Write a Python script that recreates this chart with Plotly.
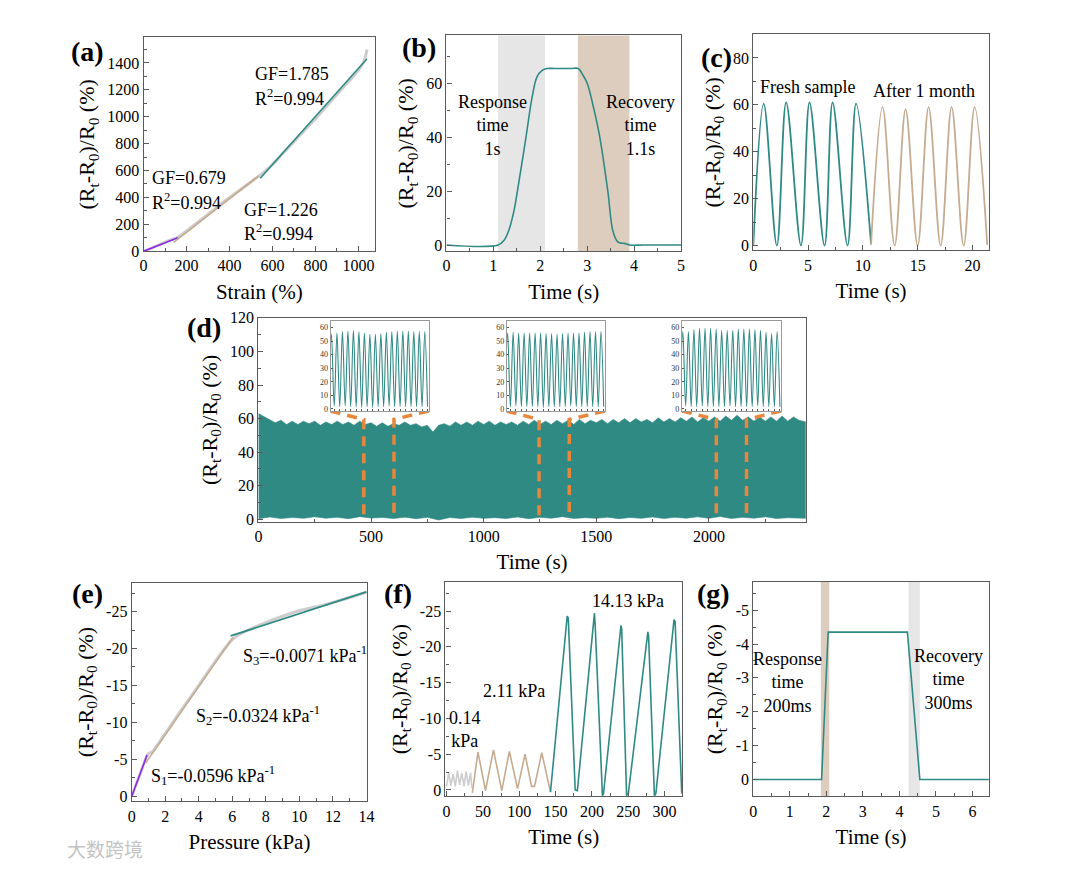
import plotly.graph_objects as go

W, H = 1080, 878
SERIF = "Liberation Serif"
TEAL = "#2f8a84"
TAN = "#c5ab90"
PURPLE = "#8a2be2"
LGREY = "#cdcdcd"
ORANGE = "#e8863c"
FRAME = "#5a5a5a"
SHADE_GREY = "#e6e6e6"
SHADE_TAN = "#dccdbf"

# ---------------- data ----------------
# (a) strain response
a_strain = [0, 40, 80, 120, 160, 200, 260, 320, 380, 440, 500, 550, 600, 650, 700, 750, 800, 850, 900, 950, 1000, 1025, 1040]
a_resp = [0, 25, 52, 80, 106, 150, 225, 300, 375, 445, 515, 575, 645, 730, 815, 900, 985, 1075, 1165, 1255, 1345, 1410, 1500]
a_fit1_x, a_fit1_y = [0, 160], [0, 100]
a_fit2_x, a_fit2_y = [140, 535], [66, 560]
a_fit3_x, a_fit3_y = [543, 1039], [543, 1429]

# (b) response / recovery
b_t = [0, 1.1, 1.23, 1.33, 1.44, 1.54, 1.69, 1.83, 1.93, 2.04, 2.14, 2.3, 2.5, 2.65, 2.81, 2.9, 3.0, 3.15, 3.27, 3.44, 3.55, 3.65, 3.72, 3.79, 3.91, 4.2, 5.0]
b_v = [0, 0, 1.8, 5.5, 12.8, 23, 39.5, 55.4, 62.6, 65, 65.7, 65.7, 65.7, 65.7, 65.7, 63.5, 60.2, 50, 40, 20, 5, 1.2, 0.7, 0.6, 0, 0, 0]
b_shades = [(1.1, 2.1, SHADE_GREY), (2.8, 3.9, SHADE_TAN)]

# (c) stability
c_fresh_t = [0, 0.95, 2.15, 3.0, 4.35, 5.13, 6.5, 7.24, 8.6, 9.38, 10.75]
c_fresh_v = [0, 60.4, 0, 61, 0, 61, 0, 61, 0, 60.5, 0.5]
c_after_t = [10.75, 11.8, 12.9, 13.9, 15.0, 16.0, 17.1, 18.1, 19.2, 20.2, 21.35]
c_after_v = [0.5, 59, 0, 58, 0, 59, 0, 59, 0, 59, 0.3]

# (d) long-term cycling envelope
d_top = [63, 61, 59.5, 57.5, 59, 56.5, 58.5, 56.5, 58.5, 57,
         58.5, 56, 58, 56.5, 58.5, 56.5, 58, 56, 58.5, 56.5,
         57.5, 55.5, 57.5, 55.5, 57, 56, 58, 56, 57, 55,
         56, 52, 56, 57, 55.5, 58, 56, 58, 56, 58.5,
         56.5, 58.5, 56, 58, 56.5, 58, 56, 58.5, 56.5, 59,
         56.5, 58.5, 56.5, 59, 57, 59, 56.5, 59.5, 57, 59,
         57.5, 59.5, 57, 59.5, 57.5, 60, 57.5, 60, 58, 59.5,
         57.5, 60.5, 58, 60, 58, 60.5, 58.5, 61, 58, 60.5,
         58.5, 61, 58.5, 61.5, 59, 62, 59, 61, 58.5, 61,
         58.5, 61, 58.5, 61.5, 58.5, 61, 59, 58.5, 58]
d_bottom = [0.3, 1.4, 0.5, 1.1, 0.6, 1.5, 0.7, 1.2, 0.4, 1.6, 0.8, 1.1, 0.5, 1.3, 0.4, 1.2, -0.4, 1.1, 0.5, 1.3,
            0.6, 1.0, 0.5, 1.4, 0.4, 1.2, 0.7, 1.6, 0.5, 1.0, 0.6, 1.3, 0.4, 1.1, 0.6, 1.4, 0.5, 1.2, 0.7, 1.5,
            0.6, 1.7, 0.5, 1.2, 0.7, 1.5, 0.5, 1.0, 0.8, 0.6]
d_zoom_windows = [(468, 602), (1246, 1380), (2033, 2167)]
inset_peaks = [
    [55, 56, 57, 57.5, 58, 57, 56, 55, 55, 55.5, 56.5, 57, 57.5, 57.5, 57.5, 57, 57, 57],
    [56, 56.5, 56, 56, 56, 56, 56, 55.5, 55.5, 55, 55.5, 56, 56, 56, 56.5, 57, 57, 57],
    [57, 57, 58.5, 59.5, 59.5, 59.5, 59, 58, 58, 58, 59, 59, 59, 58.5, 58, 56.5, 55.5, 57],
]
inset_troughs = [
    [1.5, 2, 1.5, 2, 1.5, 1.5, 1, 1.5, 1, 1.5, 1.5, 2, 1.5, 1.5, 1.5, 1.5, 1.5, 1.5, 1.5],
    [1.5, 1.5, 2, 1.5, 1.5, 1.5, 1.5, 1, 1.5, 1.5, 1.5, 1.5, 2, 1.5, 1.5, 1.5, 1.5, 1.5, 1.5],
    [1.5, 2, 1.5, 1.5, 2, 1.5, 1.5, 1.5, 1.5, 2, 1.5, 1.5, 1.5, 1.5, 2, 1.5, 1.5, 1.5, 1.5],
]

# (e) pressure response
e_p = [0, 0.5, 1.0, 1.2, 2, 3, 4, 5, 6, 6.5, 8, 10, 11.5, 14]
e_r = [0, -3, -5.8, -6, -8.5, -11.8, -15, -18.3, -21.2, -22, -23.5, -25.1, -25.9, -27.6]
e_fit1_x, e_fit1_y = [0, 0.92], [0, -5.6]
e_fit2_x, e_fit2_y = [0.83, 6.04], [-4.5, -21.5]
e_fit3_x, e_fit3_y = [5.9, 14.0], [-21.7, -27.65]

# (f) cycles at different pressures
f_low_t = [0, 3, 6, 9, 12, 15, 18, 21, 24, 27, 30, 33, 35]
f_low_v = [-0.5, -2.4, -0.6, -2.2, -0.5, -2.7, -0.7, -2.4, -0.5, -2.6, -0.6, -2.4, -0.3]
f_mid_t = [35.5, 43.2, 53.6, 64.5, 76, 86.4, 97.7, 108, 117, 121, 131, 143]
f_mid_v = [0.4, -5.3, 0.1, -5.6, 0.1, -5.4, -0.2, -5.0, -0.5, -0.5, -5.2, 0.3]
f_high_t = [143, 166, 167.5, 177, 180, 203.5, 204.5, 214.5, 216, 240, 241, 247.7, 250, 277, 278, 286, 288, 313, 314.5, 323.6]
f_high_v = [0.3, -24.3, -24.0, 0, 0.1, -24.7, -23.0, 0.8, 0.5, -23.0, -22.5, 0.7, 0.6, -22.1, -21.5, 0.8, 0.5, -23.8, -23.5, 0.5]

# (g) response / recovery under pressure
g_t = [0, 1.87, 2.05, 4.22, 4.56, 6.45]
g_v = [0, 0, -4.35, -4.35, 0, 0]
g_shades = [(1.85, 2.08, SHADE_TAN), (4.25, 4.56, SHADE_GREY)]

# ---------------- layout helpers ----------------
fig = go.Figure()
layout = dict(width=W, height=H, margin=dict(l=0, r=0, t=0, b=0),
              paper_bgcolor="white", plot_bgcolor="white", showlegend=False,
              font=dict(family=SERIF, color="black"))
shapes, annotations = [], []

YT = "(R<sub>t</sub>-R<sub>0</sub>)/R<sub>0</sub> (%)"


def ax_names(i):
    return ("xaxis" if i == 1 else f"xaxis{i}", "yaxis" if i == 1 else f"yaxis{i}",
            "x" if i == 1 else f"x{i}", "y" if i == 1 else f"y{i}")


def setup(i, box, xr, yr, xdt, ydt, xtitle, ytitle=YT, yvals=None, tick_font=16,
          xminor=None, yminor=None, show_xlabels=True, ticklen=5):
    x0, x1, y0, y1 = box
    xa, ya, xr_, yr_ = ax_names(i)
    common = dict(showline=True, linecolor=FRAME, linewidth=1.2, mirror=True, ticks="inside",
                  ticklen=ticklen, tickcolor=FRAME, showgrid=False, zeroline=False,
                  tickfont=dict(family=SERIF, size=tick_font, color="black"))
    xd = dict(common, domain=[x0 / W, x1 / W], range=xr, anchor=yr_, dtick=xdt, tick0=0,
              showticklabels=show_xlabels)
    if xtitle:
        xd["title"] = dict(text=xtitle, font=dict(family=SERIF, size=21), standoff=10)
    if xminor:
        xd["minor"] = dict(ticks="inside", ticklen=3, tickcolor=FRAME, dtick=xminor, tick0=0)
    yd = dict(common, domain=[1 - y1 / H, 1 - y0 / H], range=yr, anchor=xr_)
    if yvals is not None:
        yd.update(tickmode="array", tickvals=yvals, ticktext=[f"{v:g}" for v in yvals])
    else:
        yd.update(dtick=ydt, tick0=0)
    if ytitle:
        yd["title"] = dict(text=ytitle, font=dict(family=SERIF, size=22), standoff=6)
    if yminor:
        yd["minor"] = dict(ticks="inside", ticklen=3, tickcolor=FRAME, dtick=yminor, tick0=0)
    layout[xa] = xd
    layout[ya] = yd
    return xr_, yr_


def line(i, x, y, color, width=1.6, shape="linear", dash=None):
    _, _, xr_, yr_ = ax_names(i)
    fig.add_trace(go.Scatter(x=x, y=y, xaxis=xr_, yaxis=yr_, mode="lines",
                             line=dict(color=color, width=width, shape=shape, dash=dash),
                             hoverinfo="skip", showlegend=False))


def note(i, x, y, text, size=18, xanchor="center"):
    _, _, xr_, yr_ = ax_names(i)
    annotations.append(dict(x=x, y=y, xref=xr_, yref=yr_, text=text, showarrow=False,
                            xanchor=xanchor, yanchor="middle",
                            font=dict(family=SERIF, size=size, color="black")))


def panel_label(px, py, text):
    annotations.append(dict(x=px / W, y=1 - py / H, xref="paper", yref="paper", text=f"<b>{text}</b>",
                            showarrow=False, xanchor="center", yanchor="middle",
                            font=dict(family=SERIF, size=28, color="black")))


# ---------------- (a) ----------------
setup(1, (141, 375, 30, 248), [0, 1078], [0, 1590], 200, 200, "Strain (%)", xminor=100, yminor=100)
line(1, a_strain, a_resp, LGREY, width=3, shape="spline")
line(1, a_fit1_x, a_fit1_y, PURPLE)
line(1, a_fit2_x, a_fit2_y, TAN)
line(1, a_fit3_x, a_fit3_y, TEAL)
note(1, 511, 1315, "GF=1.785", xanchor="left")
note(1, 511, 1140, "R<sup>2</sup>=0.994", xanchor="left")
note(1, 32, 541, "GF=0.679", xanchor="left")
note(1, 32, 373, "R<sup>2</sup>=0.994", xanchor="left")
note(1, 456, 307, "GF=1.226", xanchor="left")
note(1, 456, 139, "R<sup>2</sup>=0.994", xanchor="left")
panel_label(84, 44, "(a)")

# ---------------- (b) ----------------
setup(2, (447, 684, 28, 248), [0, 5], [-2.3, 78], 1, 20, "Time (s)", xminor=0.5, yminor=10)
for x0, x1, col in b_shades:
    shapes.append(dict(type="rect", xref="x2", yref="y2 domain", x0=x0, x1=x1, y0=0, y1=1,
                       fillcolor=col, line=dict(width=0), layer="below"))
line(2, b_t, b_v, TEAL, width=1.6, shape="spline")
note(2, 0.98, 44.4, "Response<br>time<br>1s")
note(2, 4.14, 44.4, "Recovery<br>time<br>1.1s")
panel_label(419, 40, "(b)")

# ---------------- (c) ----------------
setup(3, (757, 995, 27, 247), [0, 21.5], [-2, 90], 5, 20, "Time (s)", xminor=2.5, yminor=10)
line(3, c_fresh_t, c_fresh_v, TEAL, width=1.8, shape="spline")
line(3, c_after_t, c_after_v, TAN, width=1.8, shape="spline")
note(3, 4.95, 67.8, "Fresh sample")
note(3, 15.6, 65.7, "After 1 month")
panel_label(720, 50, "(c)")

# ---------------- (d) ----------------
D_BOX = (257, 810, 316, 524)
D_XR, D_YR = [0, 2430], [-1.5, 120]
setup(4, D_BOX, D_XR, D_YR, 500, 20, "Time (s)", xminor=250, yminor=10)
top_x = [min(25 * k, 2430) for k in range(len(d_top))]
bot_x = [min(50 * k, 2430) for k in range(len(d_bottom))]
fig.add_trace(go.Scatter(x=top_x + bot_x[::-1], y=d_top + d_bottom[::-1], xaxis="x4", yaxis="y4",
                         mode="lines", fill="toself", fillcolor=TEAL,
                         line=dict(color=TEAL, width=0.6), hoverinfo="skip", showlegend=False))
panel_label(202, 326, "(d)")

inset_boxes = [(330, 429), (508, 607), (685, 785)]
INSET_Y = (319, 411)


def d_x(px):
    return D_XR[0] + (px - D_BOX[0]) / (D_BOX[1] - D_BOX[0]) * (D_XR[1] - D_XR[0])


def d_y(py):
    return D_YR[0] + (D_BOX[3] - py) / (D_BOX[3] - D_BOX[2]) * (D_YR[1] - D_YR[0])


corner_y = d_y(INSET_Y[1])
kink_y = 59.5
for (bx0, bx1), (wx0, wx1) in zip(inset_boxes, d_zoom_windows):
    for cx, wx in ((d_x(bx0), wx0), (d_x(bx1), wx1)):
        line(4, [cx, wx, wx], [corner_y, kink_y, 0], ORANGE, width=3.5, dash="10px,7px")

for k, ((bx0, bx1), peaks, troughs) in enumerate(zip(inset_boxes, inset_peaks, inset_troughs)):
    idx = 8 + k
    setup(idx, (bx0, bx1, INSET_Y[0], INSET_Y[1]), [0.35, len(peaks) + 0.2], [-1.7, 65], 1, 10,
          None, ytitle=None, tick_font=8, show_xlabels=False, ticklen=2)
    layout[f"xaxis{idx}"]["linecolor"] = "#999"
    layout[f"yaxis{idx}"]["linecolor"] = "#999"
    layout[f"yaxis{idx}"]["tickfont"]["color"] = "#333"
    zx, zy = [], []
    for j, p in enumerate(peaks):
        zx += [j, j + 0.5]
        zy += [troughs[j], p]
    zx.append(len(peaks))
    zy.append(troughs[len(peaks)])
    line(idx, zx, zy, TEAL, width=1.1, shape="spline")

# ---------------- (e) ----------------
setup(5, (129, 367, 586, 809), [0, 14.05], [0.66, -28.9], 2, 5, "Pressure (kPa)",
      yvals=[0, -5, -10, -15, -20, -25], xminor=1, yminor=2.5)
line(5, e_p, e_r, LGREY, width=3, shape="spline")
line(5, e_fit1_x, e_fit1_y, PURPLE)
line(5, e_fit2_x, e_fit2_y, TAN)
line(5, e_fit3_x, e_fit3_y, TEAL, width=1.8)
note(5, 1.04, -2.9, "S<sub>1</sub>=-0.0596 kPa<sup>-1</sup>", xanchor="left")
note(5, 3.7, -10.9, "S<sub>2</sub>=-0.0324 kPa<sup>-1</sup>", xanchor="left")
note(5, 6.53, -19.1, "S<sub>3</sub>=-0.0071 kPa<sup>-1</sup>", xanchor="left")
panel_label(84, 597, "(e)")

# ---------------- (f) ----------------
setup(6, (446, 685, 585, 804), [-1.5, 324], [0.9, -29.1], 50, 5, "Time (s)",
      yvals=[0, -5, -10, -15, -20, -25], xminor=25, yminor=2.5)
line(6, f_low_t, f_low_v, LGREY, width=1.6)
line(6, f_mid_t, f_mid_v, TAN, width=1.6)
line(6, f_high_t, f_high_v, TEAL, width=1.6)
note(6, 250, -26.4, "14.13 kPa")
note(6, 93, -13.8, "2.11 kPa")
note(6, 26, -8.5, "0.14<br>kPa")
panel_label(398, 597, "(f)")

# ---------------- (g) ----------------
setup(7, (757, 995, 585, 804), [0, 6.45], [0.5, -5.84], 1, 1, "Time (s)",
      yvals=[0, -1, -2, -3, -4, -5], xminor=0.5, yminor=0.5)
for x0, x1, col in g_shades:
    shapes.append(dict(type="rect", xref="x7", yref="y7 domain", x0=x0, x1=x1, y0=0, y1=1,
                       fillcolor=col, line=dict(width=0), layer="below"))
line(7, g_t, g_v, TEAL, width=1.6)
note(7, 0.95, -2.86, "Response<br>time<br>200ms")
note(7, 5.35, -2.95, "Recovery<br>time<br>300ms")
panel_label(717, 597, "(g)")

# watermark
annotations.append(dict(x=102 / W, y=1 - 857 / H, xref="paper", yref="paper", text="大数跨境",
                        showarrow=False, xanchor="center", yanchor="middle",
                        font=dict(family="Noto Sans CJK SC", size=19, color="#c4c4c4")))

layout["shapes"] = shapes
layout["annotations"] = annotations
fig.update_layout(**layout)
fig.write_html("out.html", config={"displayModeBar": False},
               post_script="document.body.style.margin='0';document.body.style.overflow='hidden';")
